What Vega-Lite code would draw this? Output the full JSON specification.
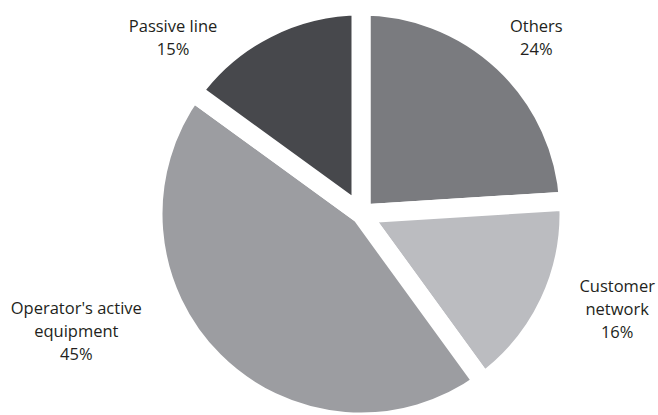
{
  "$schema": "https://vega.github.io/schema/vega-lite/v6.json",
  "width": 594,
  "height": 402,
  "autosize": "none",
  "padding": {"left": 64, "top": 13, "right": 0, "bottom": 0},
  "background": "white",
  "config": {"view": {"stroke": null}},
  "data": {
    "values": [
      {"category": "Others", "label": "Others", "value": 24, "rank": 1},
      {"category": "Customer network", "label": "Customer|network", "value": 16, "rank": 2},
      {"category": "Operator's active equipment", "label": "Operator's active|equipment", "value": 45, "rank": 3},
      {"category": "Passive line", "label": "Passive line", "value": 15, "rank": 4}
    ]
  },
  "transform": [{"calculate": "datum.label + '|' + datum.value + '%'", "as": "text"}],
  "encoding": {
    "theta": {"field": "value", "type": "quantitative", "stack": true},
    "order": {"field": "rank", "type": "quantitative"},
    "color": {
      "field": "category",
      "type": "nominal",
      "scale": {
        "domain": ["Others", "Customer network", "Operator's active equipment", "Passive line"],
        "range": ["#7a7b7f", "#bbbcc0", "#9c9da1", "#47484c"]
      },
      "legend": null
    }
  },
  "layer": [
    {
      "mark": {"type": "arc", "outerRadius": 208, "stroke": "white", "strokeWidth": 19, "strokeJoin": "bevel"}
    },
    {
      "mark": {
        "type": "text",
        "radius": 240,
        "lineBreak": "|",
        "font": "Open Sans",
        "fontSize": 16.5,
        "lineHeight": 23,
        "align": "center",
        "baseline": "middle",
        "dx": {"expr": "datum.category === 'Others' ? 11 : datum.category === 'Customer network' ? 39 : datum.category === 'Passive line' ? -79 : -115"},
        "dy": {"expr": "datum.category === 'Others' ? -12 : datum.category === 'Customer network' ? -29 : datum.category === 'Passive line' ? 27 : -75"}
      },
      "encoding": {
        "text": {"field": "text", "type": "nominal"},
        "color": {"value": "#231f20"}
      }
    }
  ]
}
